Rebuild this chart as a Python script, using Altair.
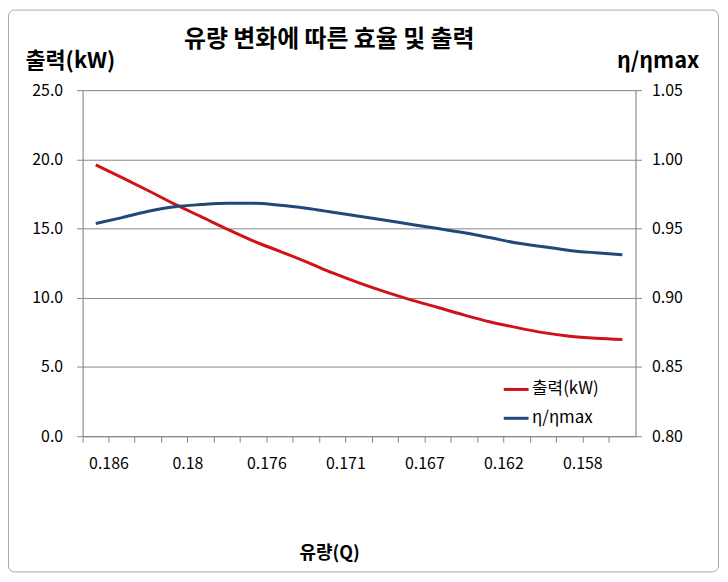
import altair as alt
import pandas as pd

# ---- data ----
Q = ["0.186", "0.184", "0.182", "0.18", "0.179", "0.177", "0.176", "0.174",
     "0.173", "0.171", "0.17", "0.168", "0.167", "0.165", "0.164", "0.162",
     "0.161", "0.159", "0.158", "0.156", "0.155"]
POWER = [19.60, 18.68, 17.73, 16.76, 15.86, 14.95, 14.09, 13.35, 12.60, 11.79,
         11.07, 10.42, 9.83, 9.30, 8.75, 8.25, 7.84, 7.48, 7.22, 7.07, 6.98]
EFF = [0.9536, 0.9579, 0.9625, 0.9658, 0.9673, 0.9682, 0.9682, 0.9668, 0.9646,
       0.9618, 0.9589, 0.9560, 0.9529, 0.9500, 0.9469, 0.9433, 0.9395, 0.9369,
       0.9342, 0.9325, 0.9311]
SERIES = ["출력(kW)", "η/ηmax"]
COLORS = ["#d0121b", "#1f4a78"]
LEFT_TICKS = [0, 5, 10, 15, 20, 25]
RIGHT_TICKS = [0.80, 0.85, 0.90, 0.95, 1.00, 1.05]
SHOWN = Q[::3]
TITLE = "유량 변화에 따른 효율 및 출력"

df = pd.DataFrame({"Q": Q, "power": POWER, "eff": EFF})

FONT = "Noto Sans CJK KR"
GRAY = "#868686"
W, H = 556, 348
band = W / len(Q)

label_expr = ("indexof([" + ",".join(f"'{q}'" for q in SHOWN) +
              "], datum.label) >= 0 ? datum.label : ''")

xenc = alt.X(
    "Q:N", sort=Q, bandPosition=0.5,
    scale=alt.Scale(type="band", paddingInner=0, paddingOuter=0),
    axis=alt.Axis(
        title="유량(Q)", bandPosition=0, labelOffset=band / 2,
        labelExpr=label_expr, labelAngle=0, tickSize=6, labelPadding=14,
        domainColor=GRAY, tickColor=GRAY, labelFont=FONT, labelFontSize=16,
        labelColor="black", titleFont=FONT, titleFontSize=18,
        titleFontWeight="bold", titleColor="black", titleX=248, titleY=123,
        titleAlign="center", titleBaseline="alphabetic", grid=False,
    ),
)

color = alt.Color(
    "series:N",
    scale=alt.Scale(domain=SERIES, range=COLORS),
    legend=alt.Legend(
        title=None, orient="none", legendX=422, legendY=287,
        symbolType="stroke", symbolSize=625, symbolStrokeWidth=3,
        labelFont=FONT, labelFontSize=17, labelColor="black",
        rowPadding=7, padding=0, labelOffset=2,
    ),
)

power_line = alt.Chart(df).transform_calculate(
    series=f"'{SERIES[0]}'"
).mark_line(strokeWidth=3, interpolate="monotone").encode(
    x=xenc,
    y=alt.Y(
        "power:Q",
        scale=alt.Scale(domain=[0, 25], nice=False, zero=True),
        axis=alt.Axis(
            orient="left", title="출력(kW)", values=LEFT_TICKS, format=".1f",
            grid=True, gridColor=GRAY, domainColor=GRAY, tickColor=GRAY,
            tickSize=6, labelPadding=14, labelFont=FONT, labelFontSize=16,
            labelColor="black", titleAngle=0, titleX=-58, titleY=-23,
            titleAlign="left", titleBaseline="alphabetic", titleFont=FONT,
            titleFontSize=22, titleFontWeight="bold", titleColor="black",
        ),
    ),
    color=color,
)

eff_line = alt.Chart(df).transform_calculate(
    series=f"'{SERIES[1]}'"
).mark_line(strokeWidth=3, interpolate="monotone").encode(
    x=xenc,
    y=alt.Y(
        "eff:Q",
        scale=alt.Scale(domain=[0.8, 1.05], nice=False, zero=False),
        axis=alt.Axis(
            orient="right", title="η/ηmax", values=RIGHT_TICKS, format=".2f",
            grid=False, domainColor=GRAY, tickColor=GRAY, tickSize=6,
            labelPadding=10, labelFont=FONT, labelFontSize=16,
            labelColor="black", titleAngle=0, titleX=-19, titleY=-23,
            titleAlign="left", titleBaseline="alphabetic", titleFont=FONT,
            titleFontSize=22, titleFontWeight="bold", titleColor="black",
        ),
    ),
    color=color,
)

title_text = alt.Chart(pd.DataFrame({"t": [TITLE]})).mark_text(
    font=FONT, fontSize=24, fontWeight="bold", color="black",
    align="center", baseline="alphabetic",
).encode(x=alt.value(248), y=alt.value(-43), text="t:N")

border = alt.Chart(pd.DataFrame({"b": [0]})).mark_rect(
    fill="transparent", stroke="#a6a6a6", strokeWidth=1, cornerRadius=6
).encode(
    x=alt.value(-74.5), x2=alt.value(639.5),
    y=alt.value(-80.5), y2=alt.value(484.5),
)

chart = alt.layer(power_line, eff_line, title_text, border).resolve_scale(
    y="independent"
).properties(
    width=W, height=H,
    autosize=alt.AutoSizeParams(type="none"),
    padding={"left": 75, "top": 81, "right": 85, "bottom": 137},
).configure_view(strokeWidth=0).configure(background="white")

chart.save("out.html", embed_options={"renderer": "svg", "actions": False})
